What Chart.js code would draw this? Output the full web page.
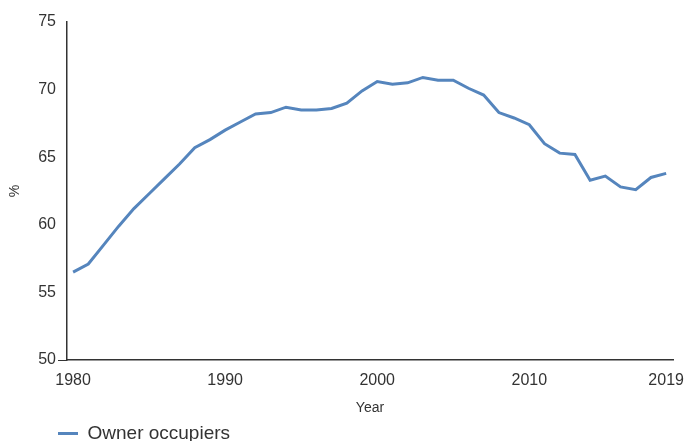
<!DOCTYPE html>
<html>
<head>
<meta charset="utf-8">
<script src="https://cdn.jsdelivr.net/npm/chart.js@4"></script>
<style>
  html, body { margin: 0; padding: 0; background: #fff; }
  #wrap { width: 685px; height: 441px; }
</style>
</head>
<body>
<div id="wrap"><canvas id="chart" width="685" height="441"></canvas></div>
<script>
// --- DONNÉES ---
const years = [1980, 1981, 1982, 1983, 1984, 1985, 1986, 1987, 1988, 1989,
               1990, 1991, 1992, 1993, 1994, 1995, 1996, 1997, 1998, 1999,
               2000, 2001, 2002, 2003, 2004, 2005, 2006, 2007, 2008, 2009,
               2010, 2011, 2012, 2013, 2014, 2015, 2016, 2017, 2018, 2019];
const ownerOccupiers = [56.5, 57.1, 58.5, 59.9, 61.2, 62.3, 63.4, 64.5, 65.7, 66.3,
                        67.0, 67.6, 68.2, 68.3, 68.7, 68.5, 68.5, 68.6, 69.0, 69.9,
                        70.6, 70.4, 70.5, 70.9, 70.7, 70.7, 70.1, 69.6, 68.3, 67.9,
                        67.4, 66.0, 65.3, 65.2, 63.3, 63.6, 62.8, 62.6, 63.5, 63.8];
const xTicks = [1980, 1990, 2000, 2010, 2019];
const yTicks = [50, 55, 60, 65, 70, 75];

const textColor = '#333';
const fontFamily = '"Liberation Sans", Arial, sans-serif';

const points = years.map((y, i) => ({ x: y, y: ownerOccupiers[i] }));

// petit décalage de la légende (alignée sous l'axe, comme l'original)
const legendShift = {
    id: 'legendShift',
    afterLayout(chart) {
        if (chart.legend) {
            chart.legend.left += 58;
            chart.legend.top += 2;
        }
    }
};

new Chart(document.getElementById('chart'), {
    type: 'line',
    data: {
        datasets: [{
            label: 'Owner occupiers',
            data: points,
            borderColor: '#5585bd',
            backgroundColor: '#5585bd',
            borderWidth: 3,
            pointRadius: 0,
            tension: 0
        }]
    },
    options: {
        responsive: false,
        animation: false,
        layout: { padding: { left: 0, right: 12, top: 22, bottom: 0 } },
        plugins: {
            legend: {
                position: 'bottom',
                align: 'start',
                maxHeight: 19,
                labels: {
                    usePointStyle: true,
                    pointStyle: 'line',
                    pointStyleWidth: 20,
                    color: textColor,
                    padding: 0,
                    font: { family: fontFamily, size: 19 }
                }
            },
            tooltip: { enabled: false }
        },
        scales: {
            x: {
                type: 'linear',
                min: 1979.6,
                max: 2019.45,
                afterBuildTicks: (scale) => { scale.ticks = xTicks.map(v => ({ value: v })); },
                afterFit: (scale) => {
                    scale.height = 62;
                    scale.paddingLeft = 0;
                    scale.paddingRight = 0;
                },
                grid: { display: false, drawTicks: false },
                border: { display: true, color: textColor, width: 1.5 },
                ticks: {
                    color: textColor,
                    padding: 11,
                    maxRotation: 0,
                    font: { family: fontFamily, size: 16 },
                    callback: (v) => String(v)
                },
                title: {
                    display: true,
                    text: 'Year',
                    color: textColor,
                    padding: { top: 4, bottom: 5.5 },
                    font: { family: fontFamily, size: 14 }
                }
            },
            y: {
                min: 50,
                max: 75,
                afterBuildTicks: (scale) => { scale.ticks = yTicks.map(v => ({ value: v })); },
                afterFit: (scale) => { scale.width = 67; },
                grid: {
                    drawOnChartArea: false,
                    tickLength: 9,
                    color: (ctx) => (ctx.tick && ctx.tick.value === 50 ? textColor : 'rgba(0,0,0,0)')
                },
                border: { display: true, color: textColor, width: 1.5 },
                ticks: {
                    color: textColor,
                    padding: 2,
                    font: { family: fontFamily, size: 16 }
                },
                title: {
                    display: true,
                    text: '%',
                    color: textColor,
                    padding: { top: 7, bottom: 0 },
                    font: { family: fontFamily, size: 14 }
                }
            }
        }
    },
    plugins: [legendShift]
});
</script>
</body>
</html>
